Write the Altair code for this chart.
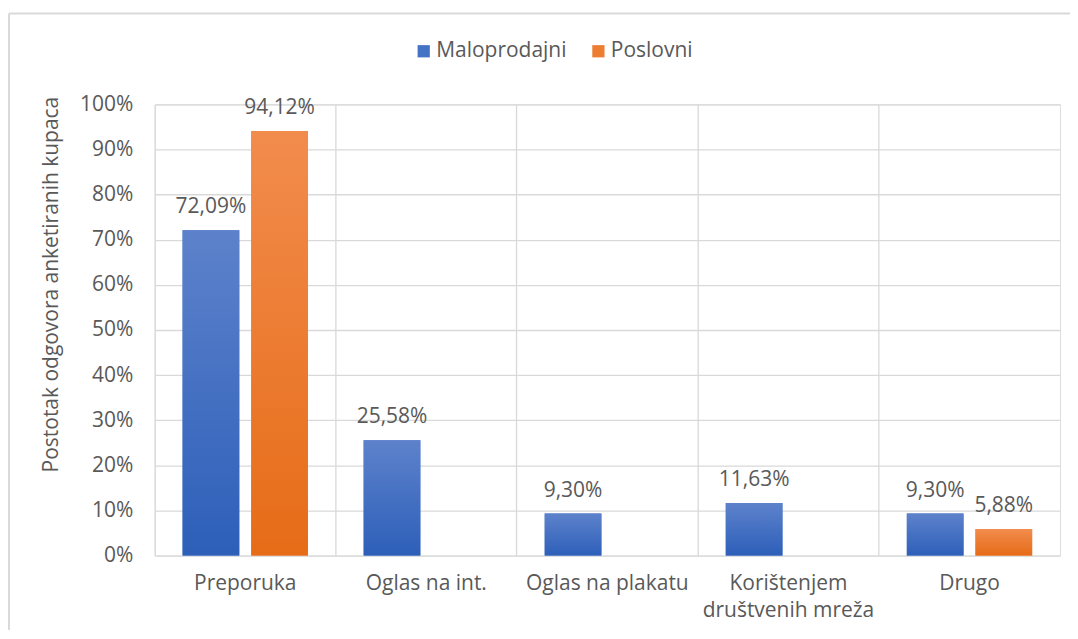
import altair as alt
import pandas as pd

categories = ["Preporuka", "Oglas na int.", "Oglas na plakatu", "Korištenjem društvenih mreža", "Drugo"]
series = ["Maloprodajni", "Poslovni"]
maloprodajni = [72.09, 25.58, 9.30, 11.63, 9.30]
poslovni = [94.12, None, None, None, 5.88]
y_ticks = [0, 10, 20, 30, 40, 50, 60, 70, 80, 90, 100]

rows = []
for c, m, p in zip(categories, maloprodajni, poslovni):
    rows.append({"cat": c, "series": series[0], "value": m})
    if p is not None:
        rows.append({"cat": c, "series": series[1], "value": p})
df = pd.DataFrame(rows)

FONT = "Open Sans"
FS = 21
TXT = "#595959"
GRID = "#d9d9d9"

blue_grad = {"gradient": "linear", "x1": 0, "y1": 0, "x2": 0, "y2": 1,
             "stops": [{"offset": 0, "color": "#5d82cb"}, {"offset": 1, "color": "#2d5fb9"}]}
orange_grad = {"gradient": "linear", "x1": 0, "y1": 0, "x2": 0, "y2": 1,
               "stops": [{"offset": 0, "color": "#f28c4d"}, {"offset": 1, "color": "#e66c17"}]}

x_enc = alt.X("cat:N", sort=categories,
              scale=alt.Scale(paddingInner=0, paddingOuter=0),
              axis=alt.Axis(title=None, labelFontSize=FS, labelColor=TXT, labelFont=FONT,
                            labelPadding=17, ticks=False, domain=False, grid=True,
                            gridColor=GRID, gridWidth=1.3, bandPosition=0, labelAngle=0,
                            labelLineHeight=27, labelBaseline="top",
                            labelExpr="datum.label == 'Korištenjem društvenih mreža' ? ['Korištenjem', 'društvenih mreža'] : datum.label"))
xo_enc = alt.XOffset("series:N", sort=series,
                     scale=alt.Scale(domain=series, paddingInner=0.174, paddingOuter=0.406))
y_enc = alt.Y("value:Q", scale=alt.Scale(domain=[0, 100]),
              axis=alt.Axis(values=y_ticks, title="Postotak odgovora anketiranih kupaca",
                            titleFontSize=FS, titleFont=FONT, titleColor=TXT, titleFontWeight="normal",
                            titleX=-103, titleY=180, titleAngle=-90, titleAlign="center",
                            titleBaseline="middle",
                            labelFontSize=FS, labelFont=FONT, labelColor=TXT, labelPadding=22,
                            labelExpr="datum.value + '%'", ticks=False, domain=False,
                            gridColor=GRID, gridWidth=1.3))

base = alt.Chart(df)

legend_bars = base.mark_bar().encode(
    x=x_enc, xOffset=xo_enc, y=y_enc,
    color=alt.Color("series:N", sort=series,
                    scale=alt.Scale(domain=series, range=["#4472c4", "#ed7d31"]),
                    legend=alt.Legend(title=None, orient="none", direction="horizontal",
                                      legendX=259, legendY=-64, symbolType="square",
                                      symbolSize=150, symbolStrokeWidth=0,
                                      labelFontSize=FS, labelFont=FONT, labelColor=TXT,
                                      columnPadding=21, labelOffset=2)),
)

grad_bars = base.mark_bar().encode(
    x=x_enc, xOffset=xo_enc, y=y_enc,
    fill=alt.condition(alt.datum.series == "Maloprodajni", alt.value(blue_grad), alt.value(orange_grad)),
)

labels = base.transform_calculate(
    lbl="replace(format(datum.value, '.2f'), '.', ',') + '%'"
).mark_text(baseline="bottom", dy=-13, fontSize=FS, font=FONT, color=TXT).encode(
    x=x_enc, xOffset=xo_enc, y=y_enc, text="lbl:N"
)

frame_top = alt.Chart(pd.DataFrame({"a": [0]})).mark_rule(color=GRID, strokeWidth=2).encode(
    x=alt.value(-146), x2=alt.value(920), y=alt.value(-91)
)
frame_left = alt.Chart(pd.DataFrame({"a": [0]})).mark_rule(color=GRID, strokeWidth=2).encode(
    x=alt.value(-146), y=alt.value(-91), y2=alt.value(540)
)

chart = alt.layer(legend_bars, grad_bars, labels, frame_top, frame_left).properties(
    width=907, height=452,
    autosize=alt.AutoSizeParams(type="none"),
    padding={"left": 147, "top": 96, "right": 10, "bottom": 74},
).configure_view(stroke=GRID, strokeWidth=1.3).configure(background="white")

chart.save("out.html", embed_options={"renderer": "svg", "actions": False})
